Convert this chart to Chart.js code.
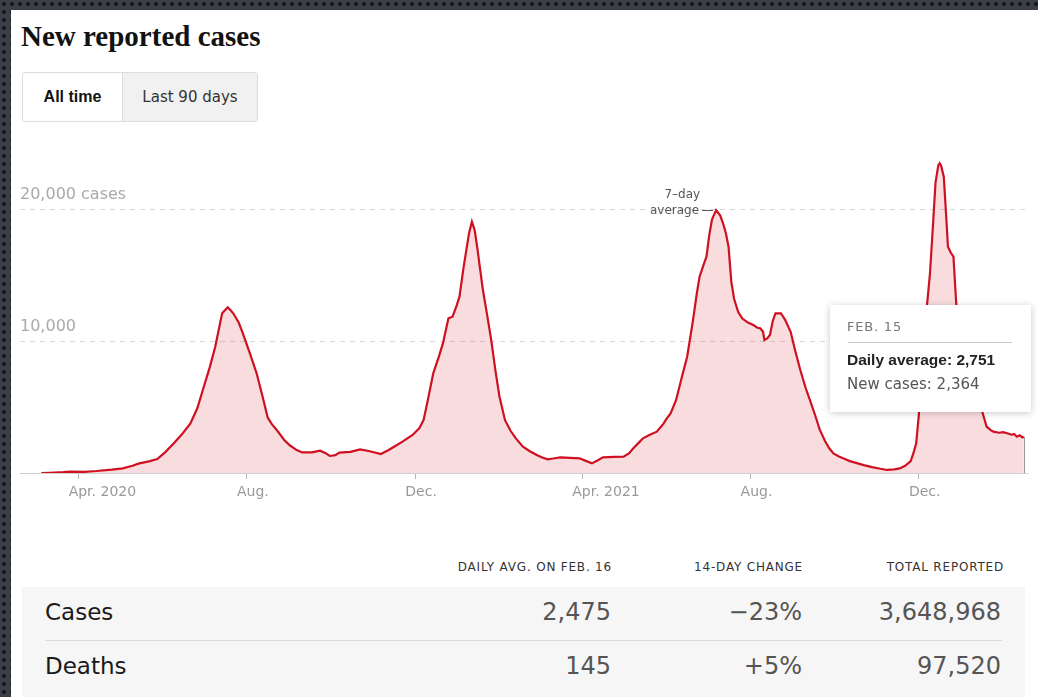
<!DOCTYPE html>
<html lang="en">
<head>
<meta charset="UTF-8">
<title>New reported cases</title>
<script src="https://cdn.jsdelivr.net/npm/chart.js@4.4.1/dist/chart.umd.min.js"></script>
<style>
    html, body { margin: 0; padding: 0; }
    body {
        width: 1038px; height: 697px; overflow: hidden; position: relative;
        background-color: #3a3e45;
        background-image: radial-gradient(circle, #17191d 1.6px, transparent 2.3px);
        background-size: 8px 8px;
        font-family: "DejaVu Sans", sans-serif;
    }
    .panel { position: absolute; left: 11px; top: 10px; right: 0; bottom: 0; background: #fff; }
    .title {
        position: absolute; left: 21px; top: 19px; line-height: 34px;
        font-family: "Liberation Serif", serif; font-weight: bold; font-size: 29px; color: #121212;
    }
    .toggle { position: absolute; left: 22px; top: 72px; height: 48px; display: flex;
        border: 1px solid #dcdcdc; border-radius: 3px; overflow: hidden; }
    .toggle div { display: flex; align-items: center; justify-content: center; height: 48px; }
    .toggle .on { width: 99px; background: #fff; font-family: "Liberation Sans", sans-serif;
        font-weight: bold; font-size: 16px; color: #121212; border-right: 1px solid #dcdcdc; }
    .toggle .off { width: 134px; background: #f1f1f1; font-size: 15px; color: #333; }
    #wrap { position: absolute; left: 0; top: 130px; width: 1038px; height: 400px; }
    .tip {
        position: absolute; left: 830px; top: 305px; width: 201px; height: 107px; background: #fff;
        box-shadow: 0 1px 7px rgba(0,0,0,0.22); z-index: 2;
    }
    .tip .date { position: absolute; left: 17px; top: 14px; font-size: 13px; letter-spacing: 0.8px; color: #777; }
    .tip .rule { position: absolute; left: 18px; top: 37px; width: 164px; height: 1px; background: #ccc; }
    .tip .avg { position: absolute; left: 17px; top: 46px; font-family: "Liberation Sans", sans-serif;
        font-weight: bold; font-size: 15.5px; color: #222; }
    .tip .daily { position: absolute; left: 17px; top: 70px; font-size: 15px; color: #555; }
    .hdr { position: absolute; top: 560px; font-size: 12px; letter-spacing: 0.8px; color: #333; text-align: right; }
    .tbl { position: absolute; left: 22px; top: 587px; width: 1003px; height: 110px; background: #f6f6f6; }
    .row { position: absolute; left: 45px; font-size: 23px; color: #1a1a1a; }
    .val { position: absolute; font-size: 24px; color: #555; text-align: right; }
    .divider { position: absolute; left: 45px; top: 640px; width: 957px; height: 1px; background: #dadada; }
</style>
</head>
<body>
<div class="panel"></div>
<div class="title">New reported cases</div>
<div class="toggle"><div class="on">All time</div><div class="off">Last 90 days</div></div>

<div id="wrap"><canvas id="myChart" width="1038" height="400"></canvas></div>

<div class="tip" id="tip">
    <div class="date" id="tipDate"></div>
    <div class="rule"></div>
    <div class="avg" id="tipAvg"></div>
    <div class="daily" id="tipNew"></div>
</div>

<div id="table"></div>

<script>
    // days counted from Mar. 1, 2020
    const days = [4, 10, 20, 25, 35, 44, 55, 63, 70, 75, 82, 88, 94, 100, 106, 112, 117, 121, 126, 130,
        135, 139, 141, 143, 147, 150, 155, 160, 165, 168, 171, 175, 180, 184, 189, 193, 200, 206, 210, 213,
        217, 220, 228, 235, 242, 250, 255, 259, 266, 273, 278, 281, 284, 288, 292, 295, 299, 302, 305, 307,
        310, 312, 314, 316, 318, 320, 322, 324, 327, 330, 333, 336, 340, 344, 348, 353, 358, 363, 367, 371,
        375, 380, 387, 394, 399, 403, 407, 411, 419, 426, 430, 433, 437, 440, 445, 450, 453, 455, 457, 460,
        464, 468, 472, 476, 479, 481, 484, 486, 488, 490, 493, 496, 498, 500, 502, 504, 506, 509, 512, 516,
        520, 523, 525, 527, 528, 530, 532, 534, 536, 540, 543, 547, 550, 554, 558, 561, 565, 568, 572, 575,
        578, 582, 585, 590, 595, 600, 606, 612, 617, 622, 626, 630, 634, 636, 638, 640, 641, 643, 646, 648,
        650, 652, 654, 655, 656, 658, 660, 661, 663, 665, 667, 670, 674, 678, 682, 686, 689, 692, 694, 698,
        701, 704, 707, 709, 711, 713, 715, 716];

    // 7-day average of new cases
    const avgCases = [0, 20, 60, 100, 90, 150, 250, 350, 550, 730, 880, 1060, 1600, 2250, 2950, 3760, 4900, 6290, 8000, 9570,
        12100, 12550, 12350, 12100, 11400, 10580, 9100, 7550, 5500, 4200, 3700, 3200, 2500, 2100, 1740, 1560, 1560, 1690, 1500, 1290,
        1350, 1540, 1600, 1790, 1650, 1440, 1700, 1950, 2400, 2880, 3400, 4015, 5500, 7550, 8800, 9820, 11720, 11840, 12700, 13360,
        15600, 16900, 18200, 19040, 18400, 17000, 15400, 13860, 12000, 10080, 7800, 5780, 4000, 3200, 2600, 1990, 1650, 1360, 1180, 1040,
        1100, 1190, 1150, 1110, 900, 730, 950, 1190, 1220, 1240, 1500, 1870, 2300, 2630, 2900, 3130, 3500, 3760, 4100, 4520,
        5530, 7200, 8810, 11400, 13600, 14870, 15800, 16390, 18000, 19200, 19920, 19500, 18920, 18200, 17140, 14500, 13200, 12200, 11700, 11400,
        11210, 11000, 10960, 10700, 10080, 10200, 10450, 11500, 12100, 12100, 11600, 10700, 9400, 7800, 6400, 5530, 4300, 3300, 2400, 1870,
        1490, 1250, 1110, 900, 750, 600, 450, 320, 230, 280, 350, 550, 900, 1500, 2250, 4500, 6800, 9500, 12900, 15130,
        18500, 22000, 23300, 23460, 23300, 22450, 19000, 17140, 16700, 16390, 12860, 10500, 8500, 7000, 5800, 4600, 3510, 3250, 3130, 3050,
        3100, 3010, 2900, 2950, 2750, 2850, 2700, 2751];

    const tickDays = [31, 153, 275, 396, 518, 640];
    const tickLabels = ['Apr. 2020', 'Aug.', 'Dec.', 'Apr. 2021', 'Aug.', 'Dec.'];
    const yTicks = [10000, 20000];
    const yTickLabels = ['10,000', '20,000 cases'];

    // hovered day (Feb. 15, 2022)
    const hoverDay = 716;
    const hoverLabel = 'FEB. 15';
    const hoverNewCases = 2364;

    // table
    const tableHeaders = ['DAILY AVG. ON FEB. 16', '14-DAY CHANGE', 'TOTAL REPORTED'];
    const tableRows = ['Cases', 'Deaths'];
    const dailyAvg = ['2,475', '145'];
    const change14 = ['\u221223%', '+5%'];
    const totalReported = ['3,648,968', '97,520'];

    const fmt = n => n.toLocaleString('en-US');

    // tooltip texts
    document.getElementById('tipDate').textContent = hoverLabel;
    document.getElementById('tipAvg').textContent = 'Daily average: ' + fmt(avgCases[days.indexOf(hoverDay)]);
    document.getElementById('tipNew').textContent = 'New cases: ' + fmt(hoverNewCases);

    // table build
    (function buildTable() {
        const t = document.getElementById('table');
        const rights = [611, 802, 1003];
        let html = '<div class="tbl"></div><div class="divider"></div>';
        tableHeaders.forEach((h, i) => {
            html += '<div class="hdr" style="right:' + (1038 - rights[i] - 1) + 'px">' + h + '</div>';
        });
        const rowTops = [599, 653];
        tableRows.forEach((r, i) => {
            html += '<div class="row" style="top:' + rowTops[i] + 'px">' + r + '</div>';
            [dailyAvg[i], change14[i], totalReported[i]].forEach((v, j) => {
                const r2 = j === 2 ? 1001 : rights[j];
                html += '<div class="val" style="top:' + (rowTops[i] - 1) + 'px;right:' + (1038 - r2) + 'px">' + v + '</div>';
            });
        });
        t.innerHTML = html;
    })();

    const annotate = {
        id: 'annotate',
        afterDatasetsDraw(chart) {
            const ctx = chart.ctx;
            const x = chart.scales.x, y = chart.scales.y;

            // hover line
            const hi = days.indexOf(hoverDay);
            const hx = Math.round(x.getPixelForValue(hoverDay)) + 0.5;
            ctx.save();
            ctx.strokeStyle = '#9a9a9a';
            ctx.lineWidth = 1;
            ctx.beginPath();
            ctx.moveTo(hx, y.getPixelForValue(avgCases[hi]));
            ctx.lineTo(hx, y.getPixelForValue(0));
            ctx.stroke();

            // "7-day average" label at the mid-2021 peak
            let pk = -1;
            days.forEach((d, i) => {
                if (d >= 470 && d <= 520 && (pk < 0 || avgCases[i] > avgCases[pk])) pk = i;
            });
            const px = x.getPixelForValue(days[pk]);
            const py = Math.round(y.getPixelForValue(avgCases[pk])) + 0.5;
            ctx.strokeStyle = '#555';
            ctx.beginPath();
            ctx.moveTo(px - 14, py);
            ctx.lineTo(px - 3, py);
            ctx.stroke();
            ctx.fillStyle = '#555';
            ctx.font = '12px "DejaVu Sans"';
            ctx.textAlign = 'right';
            ctx.textBaseline = 'middle';
            ctx.fillText('average', px - 17, py);
            ctx.fillText('7\u2013day', px - 16, py - 16);
            ctx.restore();
        }
    };

    const ctx = document.getElementById('myChart');
    const myChart = new Chart(ctx, {
        type: 'line',
        data: {
            datasets: [{
                data: days.map((d, i) => ({x: d, y: avgCases[i]})),
                borderColor: '#cf1020',
                borderWidth: 2.2,
                backgroundColor: 'rgba(218, 40, 50, 0.16)',
                fill: 'origin',
                pointRadius: 0,
                tension: 0
            }]
        },
        options: {
            responsive: false,
            animation: false,
            events: [],
            layout: { padding: { left: 20, right: 11, top: 20, bottom: 27 } },
            plugins: { legend: { display: false }, tooltip: { enabled: false } },
            scales: {
                x: {
                    type: 'linear',
                    min: -11.5,
                    max: 718.3,
                    afterFit: s => { s.height = 30; },
                    afterBuildTicks: s => { s.ticks = tickDays.map(v => ({value: v})); },
                    border: { display: true, color: '#cfcfcf', width: 1 },
                    grid: { display: true, drawOnChartArea: false, drawTicks: true, tickLength: 6, tickColor: '#b5b5b5' },
                    ticks: {
                        autoSkip: false, maxRotation: 0, align: 'start', labelOffset: -10, padding: 5,
                        color: '#999', font: { family: 'DejaVu Sans', size: 14 },
                        callback: (v, i) => tickLabels[i]
                    }
                },
                y: {
                    min: 0,
                    max: 24470,
                    afterFit: s => { s.width = 0; },
                    afterBuildTicks: s => { s.ticks = yTicks.map(v => ({value: v})); },
                    border: { display: false, dash: [5, 5] },
                    grid: { color: '#d8d8d8', drawTicks: false },
                    ticks: {
                        mirror: true, padding: 0, labelOffset: -14,
                        color: '#a9a9a9', font: { family: 'DejaVu Sans', size: 16 },
                        callback: (v, i) => yTickLabels[i]
                    }
                }
            }
        },
        plugins: [annotate]
    });
</script>
</body>
</html>
